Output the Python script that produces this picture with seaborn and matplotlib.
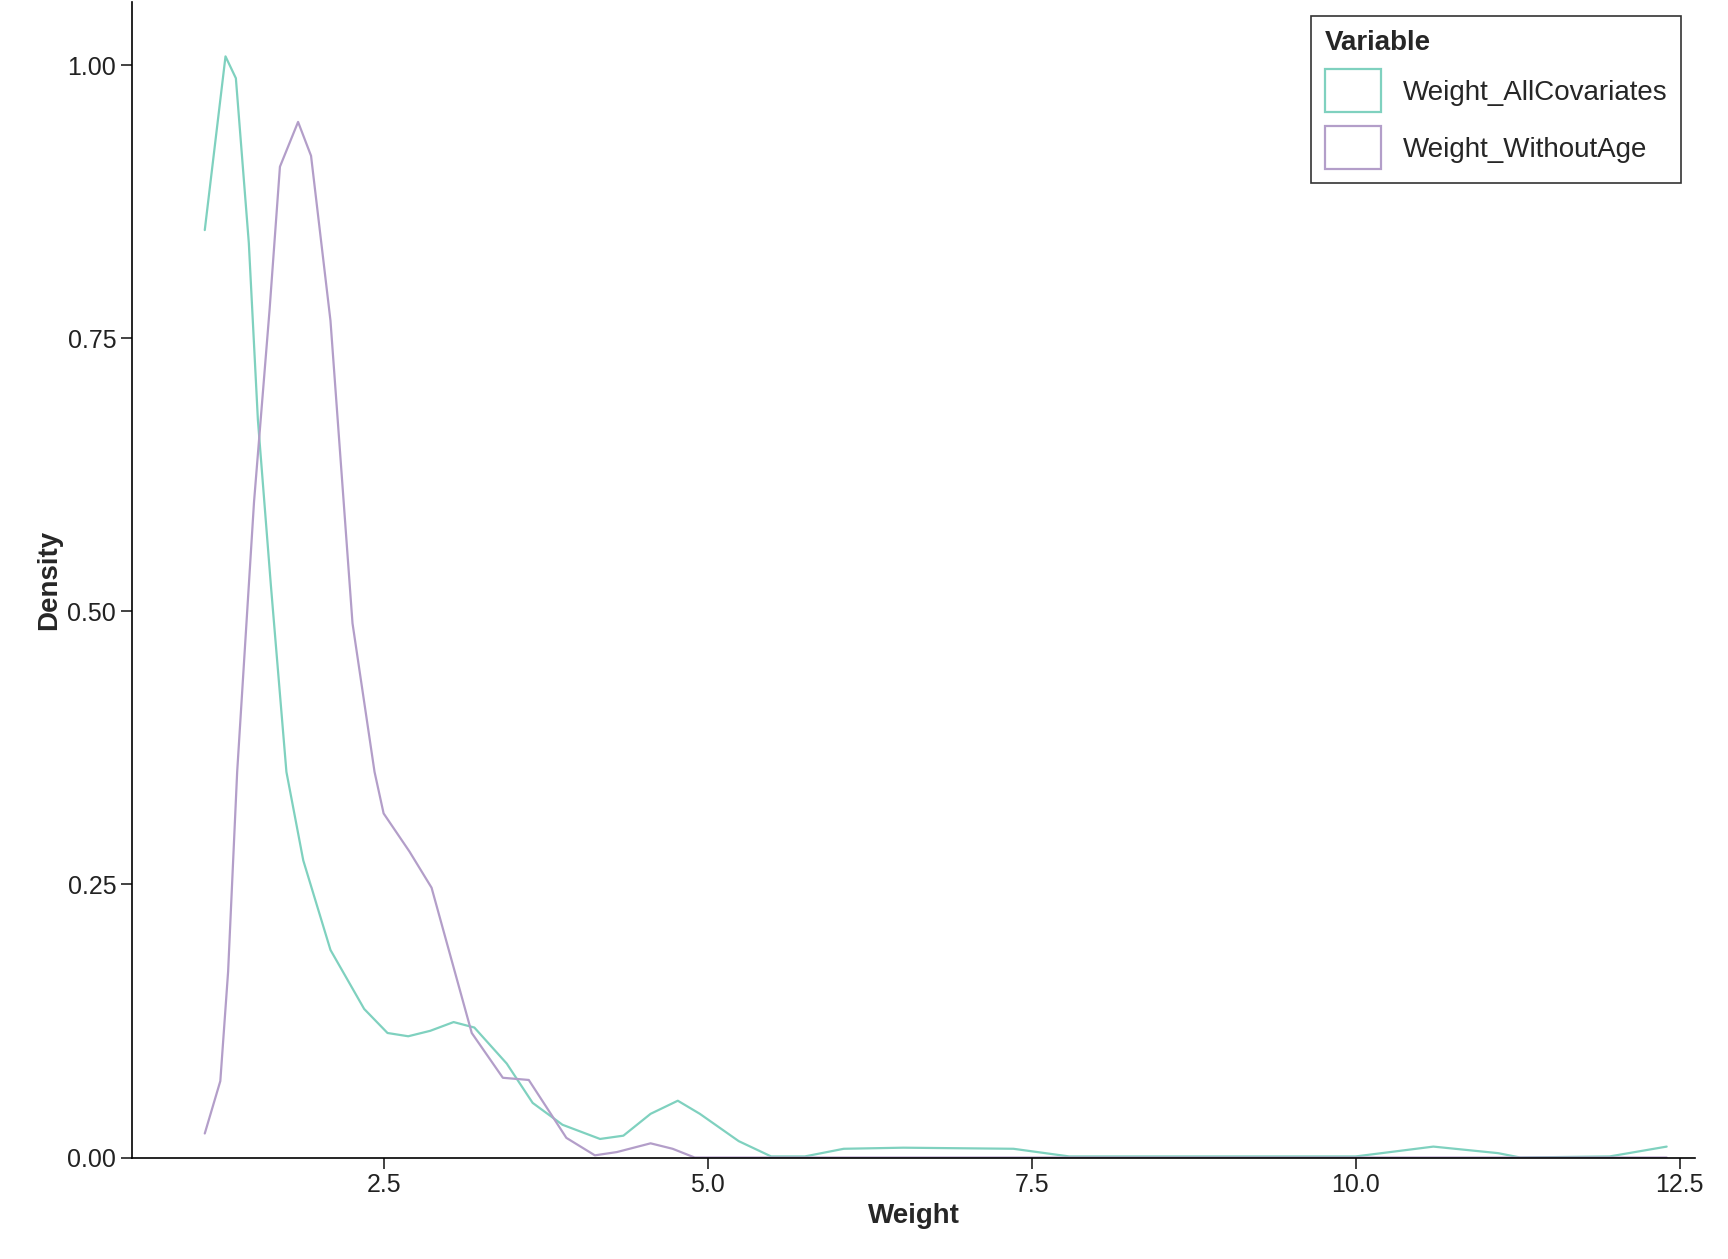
import matplotlib
matplotlib.use("Agg")
import matplotlib.pyplot as plt
import seaborn as sns
import pandas as pd
from matplotlib.patches import Patch

sns.set_theme(style="ticks")
plt.rcParams['font.family'] = ['Liberation Sans', 'DejaVu Sans']

series_names = ["Weight_AllCovariates", "Weight_WithoutAge"]
colors = ["#7fd1bf", "#b39ec9"]

x_all = [1.12,1.28,1.36,1.46,1.53,1.63,1.75,1.88,2.09,2.35,2.53,2.69,2.86,3.04,3.2,3.45,3.65,3.88,4.17,4.35,4.56,4.77,4.94,5.24,5.49,5.75,6.05,6.51,7.36,7.79,10.0,10.6,11.1,11.27,11.96,12.4]
y_all = [0.849,1.008,0.988,0.837,0.675,0.524,0.353,0.272,0.19,0.136,0.114,0.111,0.116,0.124,0.119,0.086,0.05,0.03,0.017,0.02,0.04,0.052,0.04,0.015,0.001,0.001,0.008,0.009,0.008,0.001,0.001,0.01,0.004,0.0,0.001,0.01]
x_wo = [1.12,1.24,1.3,1.37,1.5,1.62,1.7,1.84,1.94,2.09,2.26,2.43,2.5,2.7,2.87,3.18,3.42,3.62,3.79,3.91,4.13,4.3,4.56,4.73,4.9,12.4]
y_wo = [0.022,0.07,0.17,0.353,0.6,0.776,0.907,0.948,0.917,0.766,0.489,0.353,0.315,0.28,0.247,0.114,0.073,0.071,0.04,0.018,0.002,0.005,0.013,0.008,0.0,0.0]

df = pd.concat([
    pd.DataFrame({"Weight": x_all, "Density": y_all, "Variable": series_names[0]}),
    pd.DataFrame({"Weight": x_wo, "Density": y_wo, "Variable": series_names[1]}),
])

fig = plt.figure(figsize=(17.28, 12.59), dpi=100)
ax = fig.add_axes([0.0765, 0.0806, 0.9045, 0.918])
sns.lineplot(data=df, x="Weight", y="Density", hue="Variable", palette=colors,
             sort=False, estimator=None, linewidth=1.6, ax=ax, legend=False)
ax.set_xlim(0.56, 12.62)
ax.set_ylim(0, 1.058)
ax.set_xticks([2.5, 5.0, 7.5, 10.0, 12.5])
ax.set_xticklabels(["2.5", "5.0", "7.5", "10.0", "12.5"])
ax.set_yticks([0, 0.25, 0.5, 0.75, 1.0])
ax.set_yticklabels(["0.00", "0.25", "0.50", "0.75", "1.00"])
ax.tick_params(labelsize=18, length=8, width=1.2, colors="#222222")
for s in ["left", "bottom"]:
    ax.spines[s].set_linewidth(1.2)
    ax.spines[s].set_color("black")
sns.despine(ax=ax)
ax.set_xlabel("Weight", fontsize=20, fontweight="bold")
ax.set_ylabel("Density", fontsize=20, fontweight="bold")

handles = [Patch(facecolor="none", edgecolor=c, linewidth=1.6) for c in colors]
leg = ax.legend(handles, series_names, title="Variable", loc="upper right",
                bbox_to_anchor=(1.0, 1.0), fontsize=20, title_fontsize=20,
                frameon=True, fancybox=False, handlelength=2.0, handleheight=2.0,
                alignment="left", borderpad=0.5)
leg.get_title().set_fontweight("bold")
leg.get_frame().set_edgecolor("black")
leg.get_frame().set_linewidth(1.2)

fig.savefig("out.png", dpi=100)
